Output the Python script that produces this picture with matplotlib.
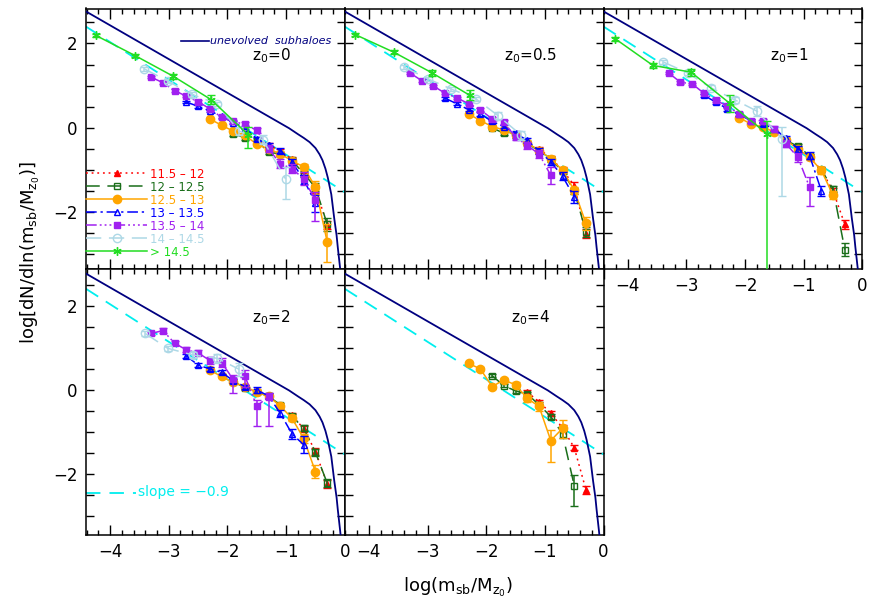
import numpy as np
import matplotlib.pyplot as plt
from matplotlib.lines import Line2D
from matplotlib.ticker import MultipleLocator, FuncFormatter

# host-mass bins (log M) and their styles
bins = ['11.5 – 12', '12 – 12.5', '12.5 – 13', '13 – 13.5', '13.5 – 14', '14 – 14.5', '> 14.5']
colors = ['#ff0000', '#1a6e1a', '#ffa500', '#0000ff', '#a020f0', '#add8e6', '#22dd22']
lstyles = [(0, (1.2, 2.5)), (0, (9, 5)), '-', (0, (7, 2.5, 1.5, 2.5)),
           (0, (7, 2, 1.2, 2, 1.2, 2, 1.2, 2)), (0, (10, 5)), '-']
markers = ['^', 's', 'o', '^', 's', 'o', (6, 2, 0)]
filled = [True, False, True, False, True, False, True]
msizes = [4.5, 4.5, 6, 4.8, 4, 6, 6]

# unevolved subhalo mass function
unev_x = [-4.41, -3.0, -2.0, -1.2, -0.95, -0.8, -0.7, -0.6, -0.5, -0.43, -0.38,
          -0.33, -0.29, -0.23, -0.18, -0.14, -0.12, -0.08, -0.06]
unev_y = [2.76, 1.63, 0.83, 0.19, -0.01, -0.15, -0.24, -0.34, -0.48, -0.63, -0.77,
          -0.97, -1.18, -1.58, -2.15, -2.55, -2.83, -3.33, -3.60]

# slope -0.9 reference line
ref_x = [-4.41, 0.0]
ref_y = [2.40, -1.53]

# per panel: bin index -> (x, y, yerr) ; yerr entries scalar or (low, high)
z0_0 = {
    0: ([-1.3, -1.1, -0.9, -0.7, -0.5, -0.3],
        [-0.40, -0.55, -0.75, -1.00, -1.45, -2.30],
        [0.05, 0.05, 0.05, 0.08, 0.1, 0.1]),
    1: ([-1.9, -1.7, -1.5, -1.3, -1.1, -0.9, -0.7, -0.5, -0.3],
        [-0.14, -0.24, -0.30, -0.58, -0.62, -0.77, -1.09, -1.41, -2.29],
        [0.05, 0.05, 0.05, 0.05, 0.05, 0.05, 0.07, 0.1, 0.15]),
    2: ([-2.3, -2.1, -1.9, -1.7, -1.5, -1.3, -1.1, -0.9, -0.7, -0.5, -0.3],
        [0.21, 0.06, -0.08, -0.18, -0.39, -0.50, -0.62, -0.78, -0.93, -1.41, -2.71],
        [0.03, 0.03, 0.03, 0.03, 0.04, 0.05, 0.05, 0.06, 0.08, 0.15, (0.47, 0.42)]),
    3: ([-2.7, -2.5, -2.3, -2.1, -1.9, -1.7, -1.5, -1.3, -1.1, -0.9, -0.7, -0.5],
        [0.61, 0.51, 0.40, 0.27, 0.12, 0.00, -0.26, -0.40, -0.54, -0.81, -1.23, -1.79],
        [0.03, 0.03, 0.03, 0.03, 0.03, 0.04, 0.05, 0.05, 0.06, 0.08, 0.1, 0.2]),
    4: ([-3.3, -3.1, -2.9, -2.7, -2.5, -2.3, -2.1, -1.9, -1.7, -1.5, -1.3, -1.1, -0.9, -0.7, -0.5],
        [1.20, 1.07, 0.88, 0.75, 0.62, 0.45, 0.25, 0.15, 0.08, -0.06, -0.50, -0.85, -0.97, -1.21, -1.72],
        [0.03, 0.03, 0.03, 0.03, 0.03, 0.03, 0.04, 0.04, 0.05, 0.06, 0.08, 0.1, 0.1, 0.15, (0.5, 0.2)]),
    5: ([-3.42, -3.02, -2.60, -2.18, -1.80, -1.40, -1.01],
        [1.40, 1.11, 0.79, 0.57, -0.08, -0.28, -1.21],
        [0.05, 0.05, 0.05, 0.05, 0.1, 0.1, (0.47, 0.28)]),
    6: ([-4.24, -3.57, -2.92, -2.28, -1.65],
        [2.19, 1.71, 1.22, 0.67, -0.16],
        [0.04, 0.04, 0.06, 0.1, (0.33, 0.17)]),
}

z0_05 = {
    0: ([-1.1, -0.9, -0.7, -0.5, -0.3],
        [-0.50, -0.72, -1.00, -1.37, -2.51],
        [0.04, 0.05, 0.06, 0.08, 0.1]),
    1: ([-1.9, -1.7, -1.5, -1.3, -1.1, -0.9, -0.7, -0.5, -0.3],
        [0.00, -0.13, -0.20, -0.36, -0.55, -0.75, -1.03, -1.50, -2.47],
        [0.04, 0.04, 0.04, 0.04, 0.05, 0.05, 0.06, 0.08, 0.12]),
    2: ([-2.3, -2.1, -1.9, -1.7, -1.5, -1.3, -1.1, -0.9, -0.7, -0.5, -0.3],
        [0.33, 0.17, 0.03, -0.05, -0.18, -0.36, -0.54, -0.73, -1.01, -1.48, -2.27],
        [0.03, 0.03, 0.03, 0.03, 0.04, 0.04, 0.05, 0.05, 0.06, 0.08, 0.15]),
    3: ([-2.7, -2.5, -2.3, -2.1, -1.9, -1.7, -1.5, -1.3, -1.1, -0.9, -0.7, -0.5],
        [0.70, 0.57, 0.43, 0.33, 0.15, 0.03, -0.13, -0.30, -0.55, -0.81, -1.15, -1.64],
        [0.04, 0.04, 0.04, 0.04, 0.04, 0.04, 0.05, 0.05, 0.06, 0.08, 0.1, 0.15]),
    4: ([-3.3, -3.1, -2.9, -2.7, -2.5, -2.3, -2.1, -1.9, -1.7, -1.5, -1.3, -1.1, -0.9],
        [1.30, 1.12, 0.99, 0.82, 0.71, 0.57, 0.43, 0.21, 0.13, -0.22, -0.42, -0.62, -1.13],
        [0.03, 0.03, 0.03, 0.03, 0.03, 0.04, 0.04, 0.05, 0.05, 0.06, 0.08, 0.1, 0.2]),
    5: ([-3.40, -2.99, -2.60, -2.18, -1.80, -1.40],
        [1.44, 1.16, 0.92, 0.69, 0.29, -0.18],
        [0.04, 0.04, 0.05, 0.05, 0.08, 0.1]),
    6: ([-4.23, -3.57, -2.92, -2.28],
        [2.21, 1.79, 1.30, 0.77],
        [0.04, 0.05, 0.07, 0.12]),
}

z0_1 = {
    0: ([-0.9, -0.7, -0.5, -0.3],
        [-0.70, -1.00, -1.50, -2.29],
        [0.05, 0.06, 0.08, 0.1]),
    1: ([-1.3, -1.1, -0.9, -0.7, -0.5, -0.3],
        [-0.30, -0.44, -0.66, -1.00, -1.45, -2.89],
        [0.04, 0.05, 0.05, 0.06, 0.08, 0.15]),
    2: ([-2.1, -1.9, -1.7, -1.5, -1.3, -1.1, -0.9, -0.7, -0.5],
        [0.24, 0.09, 0.02, -0.10, -0.30, -0.50, -0.70, -1.01, -1.60],
        [0.03, 0.03, 0.04, 0.04, 0.05, 0.05, 0.06, 0.08, 0.1]),
    3: ([-2.7, -2.5, -2.3, -2.1, -1.9, -1.7, -1.5, -1.3, -1.1, -0.9, -0.7],
        [0.77, 0.61, 0.45, 0.32, 0.17, 0.09, -0.02, -0.25, -0.50, -0.66, -1.49],
        [0.04, 0.04, 0.04, 0.04, 0.05, 0.05, 0.05, 0.06, 0.07, 0.08, 0.12]),
    4: ([-3.3, -3.1, -2.9, -2.7, -2.5, -2.3, -2.1, -1.9, -1.7, -1.5, -1.3, -1.1, -0.9],
        [1.30, 1.08, 1.04, 0.82, 0.66, 0.51, 0.33, 0.17, 0.17, -0.02, -0.38, -0.70, -1.41],
        [0.03, 0.03, 0.03, 0.03, 0.04, 0.04, 0.04, 0.05, 0.05, 0.06, 0.08, 0.1, (0.45, 0.25)]),
    5: ([-3.39, -2.98, -2.58, -2.17, -1.79, -1.37],
        [1.56, 1.30, 0.95, 0.66, 0.39, -0.26],
        [0.04, 0.05, 0.06, 0.08, 0.12, (1.37, 0.29)]),
    6: ([-4.21, -3.57, -2.92, -2.26, -1.63],
        [2.11, 1.48, 1.32, 0.58, -0.14],
        [0.04, 0.06, 0.08, 0.2, (5.0, 0.3)]),
}

z0_2 = {
    0: ([-0.9, -0.7, -0.5, -0.3],
        [-0.60, -0.92, -1.46, -2.23],
        [0.05, 0.06, 0.08, 0.1]),
    1: ([-1.9, -1.7, -1.5, -1.3, -1.1, -0.9, -0.7, -0.5, -0.3],
        [0.20, 0.05, -0.05, -0.15, -0.35, -0.62, -0.91, -1.48, -2.21],
        [0.04, 0.04, 0.04, 0.05, 0.05, 0.06, 0.07, 0.08, 0.1]),
    2: ([-2.3, -2.1, -1.9, -1.7, -1.5, -1.3, -1.1, -0.9, -0.7, -0.5],
        [0.47, 0.32, 0.18, 0.08, -0.05, -0.15, -0.38, -0.67, -1.15, -1.94],
        [0.04, 0.04, 0.04, 0.05, 0.05, 0.06, 0.06, 0.07, 0.1, 0.15]),
    3: ([-2.7, -2.5, -2.3, -2.1, -1.9, -1.7, -1.5, -1.3, -1.1, -0.9, -0.7],
        [0.81, 0.59, 0.50, 0.42, 0.22, 0.08, 0.00, -0.14, -0.55, -1.04, -1.30],
        [0.04, 0.04, 0.04, 0.05, 0.05, 0.05, 0.06, 0.07, 0.08, 0.12, 0.2]),
    4: ([-3.3, -3.1, -2.9, -2.7, -2.5, -2.3, -2.1, -1.9, -1.7, -1.5, -1.3],
        [1.34, 1.41, 1.11, 0.95, 0.88, 0.70, 0.65, 0.25, 0.32, -0.38, -0.16],
        [0.04, 0.05, 0.05, 0.06, 0.06, 0.08, 0.1, (0.33, 0.1), (0.25, 0.15), (0.47, 0.15), (0.69, 0.1)]),
    5: ([-3.40, -3.02, -2.59, -2.17, -1.80],
        [1.34, 0.99, 0.83, 0.75, 0.49],
        [0.05, 0.06, 0.08, 0.1, 0.15]),
}

z0_4 = {
    0: ([-1.3, -1.1, -0.9, -0.7, -0.5, -0.3],
        [-0.05, -0.28, -0.55, -0.90, -1.37, -2.37],
        [0.04, 0.05, 0.06, 0.08, 0.06, 0.1]),
    1: ([-1.9, -1.7, -1.5, -1.3, -1.1, -0.9, -0.7, -0.5],
        [0.34, 0.10, -0.02, -0.10, -0.35, -0.63, -1.04, -2.27],
        [0.04, 0.04, 0.05, 0.05, 0.06, 0.07, 0.1, (0.49, 0.26)]),
    2: ([-2.3, -2.1, -1.9, -1.7, -1.5, -1.3, -1.1, -0.9, -0.7],
        [0.63, 0.50, 0.08, 0.24, 0.12, -0.20, -0.39, -1.20, -0.91],
        [0.04, 0.04, 0.05, 0.05, 0.06, 0.08, 0.1, (0.5, 0.25), (0.24, 0.2)]),
}

panels = [z0_0, z0_05, z0_1, z0_2, z0_4]
panel_labels = ['0', '0.5', '1', '2', '4']

fig = plt.figure(figsize=(8.72, 6.09), dpi=100)
W, H = 872, 609
left0, pw = 86 / W, 258.8 / W
rows = [(1 - 269 / H, (269 - 8.5) / H, (-3.35, 2.83)),
        (1 - 535 / H, (535 - 269) / H, (-3.44, 2.87))]


def yfmt(v, pos):
    if abs(v - round(v)) < 1e-6 and int(round(v)) in (-2, 0, 2):
        return '%d' % round(v) if v >= 0 else '\u2212%d' % abs(round(v))
    return ''


for i, data in enumerate(panels):
    r, c = divmod(i, 3)
    bot, h, ylim = rows[r]
    ax = fig.add_axes([left0 + c * pw, bot, pw, h])
    ax.set_xlim(-4.41, 0.0)
    ax.set_ylim(*ylim)

    ax.plot(unev_x, unev_y, color='#000080', lw=1.3, zorder=3)
    ax.plot(ref_x, ref_y, color='#00eeee', lw=1.3, ls=(0, (8, 5)), zorder=2)

    for k in sorted(data):
        x, y, e = data[k]
        lo = [v[0] if isinstance(v, tuple) else v for v in e]
        hi = [v[1] if isinstance(v, tuple) else v for v in e]
        ax.errorbar(x, y, yerr=[lo, hi], color=colors[k], ls=lstyles[k], lw=1.1,
                    marker=markers[k], ms=msizes[k],
                    mfc=colors[k] if filled[k] else 'none', mec=colors[k], mew=1.0,
                    capsize=3, elinewidth=1.1, capthick=1.1, zorder=4 + k)

    ax.text(-1.25, 1.72, r'z$_0$=' + panel_labels[i], fontsize=11, ha='center', va='center')

    ax.xaxis.set_major_locator(MultipleLocator(1))
    ax.xaxis.set_minor_locator(MultipleLocator(0.2))
    ax.yaxis.set_major_locator(MultipleLocator(0.5))
    ax.yaxis.set_major_formatter(FuncFormatter(yfmt))
    ax.tick_params(which='both', direction='in', top=True, right=True, width=1, labelsize=12)
    ax.tick_params(axis='x', which='major', length=7, pad=6)
    ax.tick_params(axis='x', which='minor', length=3.5)
    ax.tick_params(axis='y', which='major', length=5.5, pad=6)
    for s in ax.spines.values():
        s.set_linewidth(1.1)
    if c != 0:
        ax.tick_params(axis='y', labelleft=False)
    if r == 0 and i != 2:
        ax.tick_params(axis='x', labelbottom=False)

    if i == 0:
        ax.plot([-2.79, -2.31], [2.05, 2.05], color='#000080', lw=1.2)
        ax.text(-2.30, 2.05, 'unevolved  subhaloes', color='#000080', fontsize=8,
                style='italic', va='center')
        handles = [Line2D([], [], color=colors[k], ls=lstyles[k], lw=1.1, marker=markers[k],
                          ms=msizes[k], mfc=colors[k] if filled[k] else 'none',
                          mec=colors[k], mew=1.0) for k in range(7)]
        leg = ax.legend(handles, bins, loc='lower left', bbox_to_anchor=(0.0, 0.04),
                        frameon=False, fontsize=8.5, handlelength=5.2, handletextpad=0.25,
                        labelspacing=0.0, borderpad=0, borderaxespad=0, numpoints=1)
        for t, col in zip(leg.get_texts(), colors):
            t.set_color(col)
    if i == 3:
        ax.plot([-4.41, -3.55], [-2.45, -2.45], color='#00eeee', lw=1.3, ls=(0, (8, 5)))
        ax.text(-3.53, -2.42, 'slope = \u22120.9', color='#00eeee', fontsize=10, va='center')

fig.text(0.525, 0.035, r'log(m$_{\rm sb}$/M$_{\rm z_0}$)', fontsize=13, ha='center', va='center')
fig.text(0.035, 0.585, r'log[dN/dln(m$_{\rm sb}$/M$_{\rm z_0}$)]', fontsize=13,
         ha='center', va='center', rotation=90)

fig.savefig('out.png', dpi=100)
